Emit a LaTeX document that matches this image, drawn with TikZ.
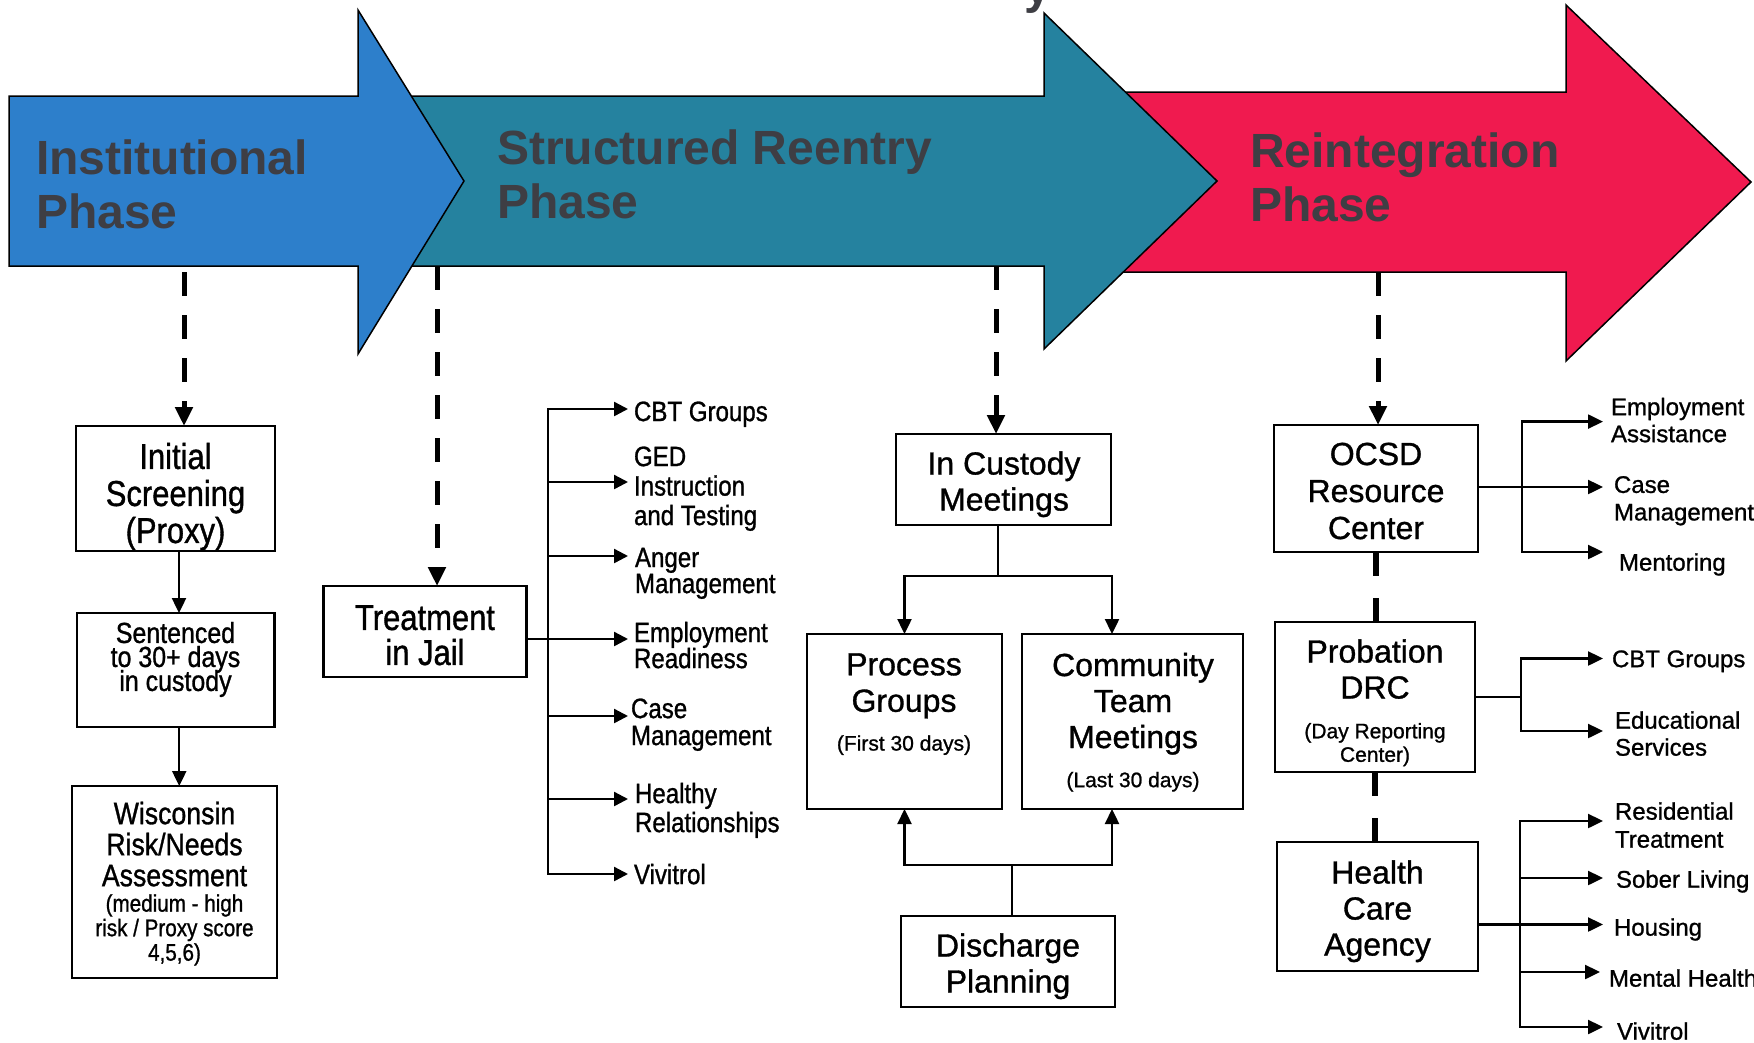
\documentclass[tikz,border=0pt]{standalone}
\usepackage{fontspec}
\setmainfont{Liberation Sans}[FakeBold=1.0]
\newfontfamily\narf[FakeStretch=0.86,FakeBold=1.0]{Liberation Sans}
\newfontfamily\phf{Liberation Sans Bold}
\usetikzlibrary{arrows.meta}
\definecolor{cblue}{RGB}{45,127,203}
\definecolor{cteal}{RGB}{37,130,159}
\definecolor{cred}{RGB}{240,26,79}
\definecolor{ptext}{RGB}{62,62,68}
\newcommand\fsz[2]{\fontsize{#1pt}{#2pt}\selectfont\lineskiplimit=-1000pt\relax}
\newcommand\TopS{\rule{0pt}{1em}}
\newcommand\BotS{\rule[-.28em]{0pt}{.28em}}
\begin{document}
\begin{tikzpicture}[x=1pt,y=-1pt]
\tikzset{
  every node/.style={inner sep=0pt,outer sep=0pt},
  box/.style={draw=black,line width=2.6pt,fill=white},
  ctxt/.style={align=center,text=black},
  ltxt/.style={align=left,text=black,anchor=west},
  phasearrow/.style={draw=black,line width=1.5pt,line join=miter},
  phase/.style={align=left,anchor=west,text=ptext,font=\phf\fsz{48}{54}},
  conn/.style={draw=black,line width=2.4pt},
  arr/.style={conn,-{Triangle[length=15pt,width=14pt]}},
  jarr/.style={conn,-{Triangle[length=14pt,width=14pt]}},
  dashconn/.style={draw=black,line width=5pt,dash pattern=on 24pt off 19pt,-{Triangle[length=19pt,width=17pt]}},
  dashlink/.style={draw=black,line width=6pt,dash pattern=on 24pt off 22pt},
  jfont/.style={font=\narf\fsz{28}{28}},
  rfont/.style={font=\fsz{24}{27}},
}
\useasboundingbox (0,0) rectangle (1754,1042);
\fill[white] (0,0) rectangle (1754,1042);

% title fragment
\begin{scope}
\clip (0,0) rectangle (1754,1042);
\node[anchor=base west,text=ptext,font=\phf\fsz{48}{54}] (ttl) at (1024,3) {y};
\end{scope}

% phase arrows
\draw[phasearrow,fill=cred] (1100,92) -- (1566,92) -- (1566,5) -- (1751,182) -- (1566,361) -- (1566,272) -- (1100,272) -- cycle;
\draw[phasearrow,fill=cteal] (380,96) -- (1044,96) -- (1044,13) -- (1217,181) -- (1044,349) -- (1044,266) -- (380,266) -- cycle;
\draw[phasearrow,fill=cblue] (9,96) -- (358,96) -- (358,10) -- (464,181) -- (358,354) -- (358,266) -- (9,266) -- cycle;

\node[phase] (ph1) at (36,184.5) {\TopS Institutional\\Phase\BotS};
\node[phase] (ph2) at (497,174.5) {\TopS Structured Reentry\\Phase\BotS};
\node[phase] (ph3) at (1250,177.5) {\TopS Reintegration\\Phase\BotS};

% ---------- boxes ----------
\node[box,minimum width=199pt,minimum height=125pt] (init) at (175.5,488.5) {};
\node[ctxt,font=\narf\fsz{36}{37}] (init-t) at (175.5,493) {\TopS Initial\\Screening\\(Proxy)\BotS};

\node[box,minimum width=197.5pt,minimum height=114pt] (sent) at (175.75,670) {};
\node[ctxt,font=\narf\fsz{29}{24}] (sent-t) at (175.5,656.5) {\TopS Sentenced\\to 30+ days\\in custody\BotS};

\node[box,minimum width=205pt,minimum height=192pt] (wisc) at (174.5,882) {};
\node[ctxt,font=\narf\fsz{31}{31}] (wisc-t) at (174.5,844) {\TopS Wisconsin\\Risk/Needs\\Assessment\BotS};
\node[ctxt,font=\narf\fsz{24}{24.5}] (wisc-s) at (174.5,927.5) {\TopS (medium - high\\risk / Proxy score\\4,5,6)\BotS};

\node[box,minimum width=203pt,minimum height=91pt] (treat) at (425,631.5) {};
\node[ctxt,font=\narf\fsz{36}{35}] (treat-t) at (425,634.5) {\TopS Treatment\\in Jail\BotS};

\node[box,minimum width=215pt,minimum height=91pt] (cust) at (1003.5,479.5) {};
\node[ctxt,font=\fsz{32}{36}] (cust-t) at (1004,481) {\TopS In Custody\\Meetings\BotS};

\node[box,minimum width=195pt,minimum height=175pt] (proc) at (904.5,721.5) {};
\node[ctxt,font=\fsz{32}{36.5}] (proc-t) at (904,682) {\TopS Process\\Groups\BotS};
\node[ctxt,font=\fsz{21}{24}] (proc-s) at (904,743) {\TopS (First 30 days)\BotS};

\node[box,minimum width=221pt,minimum height=175pt] (comm) at (1132.5,721.5) {};
\node[ctxt,font=\fsz{32}{36}] (comm-t) at (1133,700.5) {\TopS Community\\Team\\Meetings\BotS};
\node[ctxt,font=\fsz{21}{24}] (comm-s) at (1133,779.6) {\TopS (Last 30 days)\BotS};

\node[box,minimum width=214pt,minimum height=91pt] (disc) at (1008,961.5) {};
\node[ctxt,font=\fsz{32}{36}] (disc-t) at (1008,963) {\TopS Discharge\\Planning\BotS};

\node[box,minimum width=204pt,minimum height=127pt] (ocsd) at (1376,488.5) {};
\node[ctxt,font=\fsz{32}{37}] (ocsd-t) at (1376,490.5) {\TopS OCSD\\Resource\\Center\BotS};

\node[box,minimum width=200pt,minimum height=150pt] (prob) at (1375,697) {};
\node[ctxt,font=\fsz{32}{36}] (prob-t) at (1375,669) {\TopS Probation\\DRC\BotS};
\node[ctxt,font=\fsz{21}{23.5}] (prob-s) at (1375,742.5) {\TopS (Day Reporting\\Center)\BotS};

\node[box,minimum width=201pt,minimum height=129pt] (hca) at (1377.5,906.5) {};
\node[ctxt,font=\fsz{32}{36}] (hca-t) at (1377.5,908) {\TopS Health\\Care\\Agency\BotS};

% ---------- dashed connectors from phases ----------
\coordinate (pa1) at (184,272);
\coordinate (pa2) at (437,266);
\coordinate (pa3) at (996,266);
\coordinate (pa4) at (1378,272);
\draw[dashconn] (pa1) -- (pa1 |- init.north);
\draw[dashconn] (pa2) -- (pa2 |- treat.north);
\draw[dashconn] (pa3) -- (pa3 |- cust.north);
\draw[dashconn] (pa4) -- (pa4 |- ocsd.north);

% ---------- left column ----------
\draw[arr] ([xshift=3.5pt]init.south) -- ([xshift=3.5pt]init.south |- sent.north);
\draw[arr] ([xshift=3.5pt]sent.south) -- ([xshift=3.5pt]sent.south |- wisc.north);

% ---------- jail branches ----------
\coordinate (jt) at (548,0);
\coordinate (ja1) at (628,409);
\coordinate (ja2) at (628,482);
\coordinate (ja3) at (628,556);
\coordinate (ja4) at (628,639);
\coordinate (ja5) at (628,716);
\coordinate (ja6) at (628,799);
\coordinate (ja7) at (628,874);
\draw[jarr] (ja4 -| jt) |- (ja1);
\draw[jarr] (ja4 -| jt) |- (ja7);
\draw[jarr] (ja2 -| jt) -- (ja2);
\draw[jarr] (ja3 -| jt) -- (ja3);
\draw[jarr] (ja5 -| jt) -- (ja5);
\draw[jarr] (ja6 -| jt) -- (ja6);
\draw[jarr] (treat.east |- ja4) -- (ja4);

\node[ltxt,jfont] (jl1) at (634,411) {\TopS CBT Groups\BotS};
\node[ltxt,font=\narf\fsz{28}{29.5}] (jl2) at (634,485.5) {\TopS GED\\Instruction\\and Testing\BotS};
\node[ltxt,font=\narf\fsz{28}{26}] (jl3) at (635,570) {\TopS Anger\\Management\BotS};
\node[ltxt,font=\narf\fsz{28}{26}] (jl4) at (634,645) {\TopS Employment\\Readiness\BotS};
\node[ltxt,font=\narf\fsz{28}{27}] (jl5) at (631,721.5) {\TopS Case\\Management\BotS};
\node[ltxt,font=\narf\fsz{28}{29}] (jl6) at (635,807.5) {\TopS Healthy\\Relationships\BotS};
\node[ltxt,jfont] (jl7) at (634,874) {\TopS Vivitrol\BotS};

% ---------- middle ----------
\coordinate (cs) at (998,576);
\draw[conn] (cs |- cust.south) -- (cs);
\draw[arr] (cs) -| (proc.north);
\draw[arr] (cs) -| ([xshift=-20.5pt]comm.north);
\coordinate (ds) at (1012,865);
\draw[conn] (ds |- disc.north) -- (ds);
\draw[arr] (ds) -| (proc.south);
\draw[arr] (ds) -| ([xshift=-20.5pt]comm.south);

% ---------- right column ----------
\draw[dashlink] (ocsd.south) -- (ocsd.south |- prob.north);
\draw[dashlink] (prob.south) -- (prob.south |- hca.north);

\coordinate (ot) at (1522,0);
\coordinate (oa1) at (1603,421.6);
\coordinate (oa2) at (1603,487);
\coordinate (oa3) at (1603,552);
\draw[arr] (oa2 -| ot) |- (oa1);
\draw[arr] (oa2 -| ot) |- (oa3);
\draw[arr] (ocsd.east |- oa2) -- (oa2);

\coordinate (pm) at (1521,697);
\coordinate (pb1) at (1603,658.5);
\coordinate (pb2) at (1603,731);
\draw[conn] (prob.east |- pm) -- (pm);
\draw[arr] (pm) |- (pb1);
\draw[arr] (pm) |- (pb2);

\coordinate (ht) at (1520,0);
\coordinate (h1) at (1603,821);
\coordinate (h2) at (1603,878);
\coordinate (h3) at (1603,924.5);
\coordinate (h4) at (1600,972);
\coordinate (h5) at (1603,1027);
\draw[arr] (h3 -| ht) |- (h1);
\draw[arr] (h3 -| ht) |- (h5);
\draw[arr] (h2 -| ht) -- (h2);
\draw[arr] (h4 -| ht) -- (h4);
\draw[arr] (hca.east |- h3) -- (h3);

\node[ltxt,rfont] (rl1) at (1611,420) {\TopS Employment\\Assistance\BotS};
\node[ltxt,font=\fsz{24}{27.5}] (rl2) at (1614,498) {\TopS Case\\Management\BotS};
\node[ltxt,rfont] (rl3) at (1619,562) {\TopS Mentoring\BotS};
\node[ltxt,rfont] (rl4) at (1612,658.5) {\TopS CBT Groups\BotS};
\node[ltxt,rfont] (rl5) at (1615,733.5) {\TopS Educational\\Services\BotS};
\node[ltxt,font=\fsz{24}{28}] (rl6) at (1615,825) {\TopS Residential\\Treatment\BotS};
\node[ltxt,rfont] (rl7) at (1616,879) {\TopS Sober Living\BotS};
\node[ltxt,rfont] (rl8) at (1614,927) {\TopS Housing\BotS};
\node[ltxt,rfont] (rl9) at (1609,978) {\TopS Mental Health\BotS};
\node[ltxt,rfont] (rl10) at (1617,1031) {\TopS Vivitrol\BotS};
\end{tikzpicture}
\end{document}
